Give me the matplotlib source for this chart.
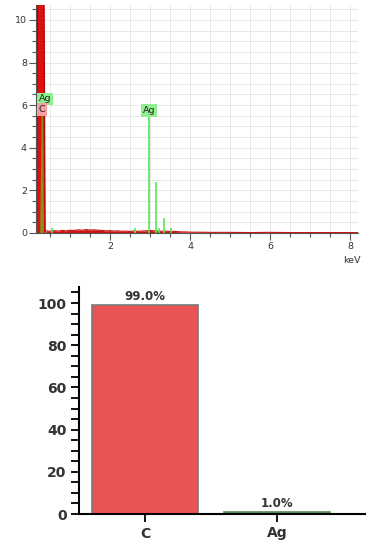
import matplotlib
matplotlib.use("Agg")
import matplotlib.pyplot as plt
from matplotlib.ticker import MultipleLocator

# EDS spectrum (counts in the plot's y units, keV on x)
bg_kev = [0.40, 0.50, 0.60, 0.70, 0.80, 0.90, 1.00, 1.10, 1.20, 1.30, 1.40, 1.50,
          1.60, 1.70, 1.80, 1.90, 2.00, 2.10, 2.20, 2.30, 2.40, 2.50, 2.60, 2.70,
          2.80, 2.90, 3.00, 3.10, 3.20, 3.30, 3.40, 3.50, 3.60, 3.70, 3.80, 3.90,
          4.00, 4.50, 5.00, 5.50, 6.00, 6.50, 7.00, 7.50, 8.00, 8.20]
bg_counts = [0.10, 0.08, 0.11, 0.09, 0.12, 0.10, 0.13, 0.12, 0.15, 0.13, 0.16, 0.14,
             0.15, 0.13, 0.12, 0.10, 0.11, 0.09, 0.10, 0.08, 0.09, 0.07, 0.10, 0.08,
             0.09, 0.10, 0.12, 0.10, 0.09, 0.08, 0.09, 0.07, 0.08, 0.06, 0.05, 0.05,
             0.04, 0.03, 0.03, 0.02, 0.03, 0.02, 0.02, 0.02, 0.02, 0.02]

c_peak_kev = [0.16, 0.20, 0.24, 0.27, 0.29, 0.32, 0.35, 0.38]
c_peak_counts = [0.0, 14.0, 45.0, 70.0, 70.0, 40.0, 12.0, 0.0]
agm_kev = [0.24, 0.28, 0.31, 0.34]
agm_counts = [0.0, 5.8, 5.8, 0.0]

ag_lines_kev = [0.56, 2.63, 2.98, 3.15, 3.23, 3.35, 3.52]
ag_lines_counts = [0.25, 0.22, 5.6, 2.4, 0.25, 0.72, 0.22]

# quantification
elements = ["C", "Ag"]
wt_percent = [99.0, 1.0]
bar_colors = ["#ea5353", "#2e9e2e"]
bar_edges = ["#7a7a7a", "#5c8a5c"]

fig = plt.figure(figsize=(3.66, 5.51), dpi=100)

# spectrum panel
ax1 = fig.add_axes([36 / 366, 318 / 551, 322 / 366, 228 / 551])
ax1.fill_between(bg_kev, bg_counts, color="#cc1111", lw=0)
ax1.plot(bg_kev, bg_counts, color="#cc1111", lw=0.8)
ax1.fill_between(c_peak_kev, c_peak_counts, color="#dd1010", lw=0)
ax1.plot(c_peak_kev, c_peak_counts, color="#aa0000", lw=0.8)
ax1.fill_between(agm_kev, agm_counts, color="#8c8c1a", lw=0)
ax1.vlines(ag_lines_kev, 0, ag_lines_counts, color="#55e855", lw=1.2)

lab = dict(fontsize=6.8, ha="center", va="center", color="#222222")
ax1.text(0.37, 6.3, "Ag", bbox=dict(fc="#8ef08e", ec="none", pad=1.2), **lab)
ax1.text(0.29, 5.8, "C", bbox=dict(fc="#f5a0a0", ec="none", pad=1.2), **lab)
ax1.text(2.98, 5.75, "Ag", bbox=dict(fc="#8ef08e", ec="none", pad=1.2), **lab)

ax1.set_xlim(0.15, 8.2)
ax1.set_ylim(0, 10.7)
ax1.xaxis.set_major_locator(MultipleLocator(2))
ax1.xaxis.set_minor_locator(MultipleLocator(0.5))
ax1.yaxis.set_major_locator(MultipleLocator(2))
ax1.yaxis.set_minor_locator(MultipleLocator(0.5))
ax1.grid(which="both", color="#e8e8e8", lw=0.7)
ax1.set_axisbelow(True)
for s in ["top", "right"]:
    ax1.spines[s].set_visible(False)
for s in ["left", "bottom"]:
    ax1.spines[s].set_color("#555555")
ax1.tick_params(which="major", length=5, width=0.8, color="#555555",
                labelsize=6.8, labelcolor="#333333", pad=1.5)
ax1.tick_params(which="minor", length=3, width=0.8, color="#555555")
ax1.text(8.05, -1.3, "keV", fontsize=6.8, color="#333333", ha="center", va="center")

# composition bars
ax2 = fig.add_axes([79 / 366, 37 / 551, 287 / 366, 227 / 551])
x = list(range(len(elements)))
bars = ax2.bar(x, wt_percent, width=0.8, color=bar_colors,
               edgecolor=bar_edges, linewidth=1.2)
for b, v in zip(bars, wt_percent):
    ax2.text(b.get_x() + b.get_width() / 2, v + 0.8, f"{v:.1f}%",
             ha="center", va="bottom", fontsize=8.5, fontweight="bold", color="#333333")
ax2.set_xticks(x)
ax2.set_xticklabels(elements)
ax2.set_xlim(-0.5, 1.675)
ax2.set_ylim(0, 107.6)
ax2.yaxis.set_major_locator(MultipleLocator(20))
ax2.yaxis.set_minor_locator(MultipleLocator(5))
for s in ["top", "right"]:
    ax2.spines[s].set_visible(False)
for s in ["left", "bottom"]:
    ax2.spines[s].set_linewidth(1.5)
ax2.tick_params(which="major", length=6, width=1.3, labelsize=10, pad=3)
ax2.tick_params(which="minor", length=6, width=1.3)
for t in ax2.get_xticklabels() + ax2.get_yticklabels():
    t.set_fontweight("bold")
    t.set_color("#333333")

fig.savefig("out.png", dpi=100)
